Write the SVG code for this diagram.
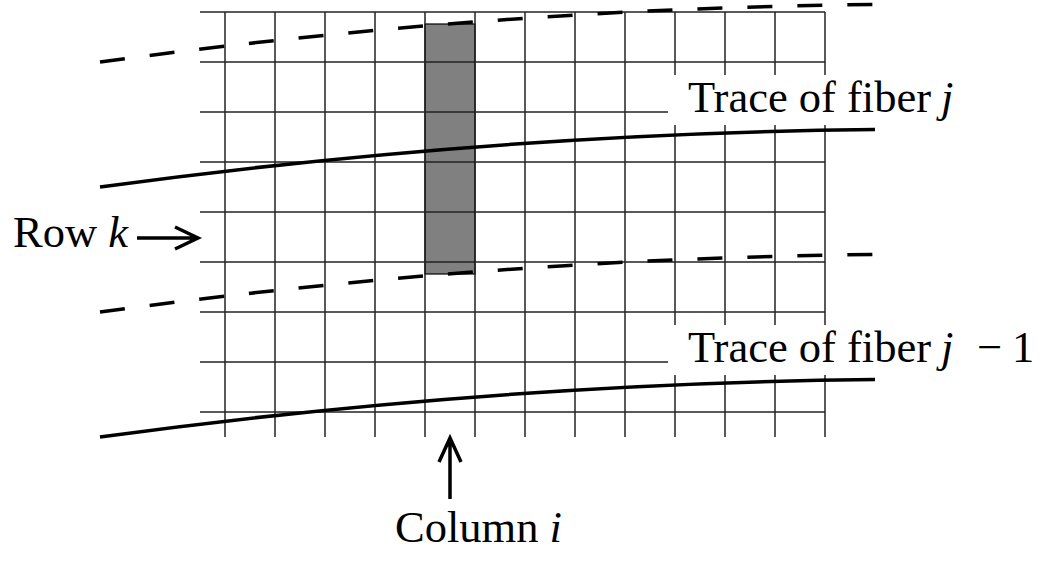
<svg xmlns="http://www.w3.org/2000/svg" width="1052" height="571" viewBox="0 0 1052 571">
<style>
.grid line{stroke:#222;stroke-width:1.5}
.curve{fill:none;stroke:#000;stroke-width:3.5}
.dash{stroke-dasharray:25 25}
.arrow{fill:none;stroke:#000;stroke-width:3.5}
text{font-family:"Liberation Serif","Times New Roman",serif;font-size:44.5px;fill:#000}
.it{font-style:italic}
.bg{fill:#fff}
</style>
<rect width="1052" height="571" fill="#fff"/>
<g id="pixel">
<rect x="425" y="24" width="50" height="250" fill="#808080" stroke="#000" stroke-width="1.2"/>
</g>
<g id="grid" class="grid">
<line x1="200" y1="12" x2="825" y2="12"/>
<line x1="200" y1="62" x2="825" y2="62"/>
<line x1="200" y1="112" x2="825" y2="112"/>
<line x1="200" y1="162" x2="825" y2="162"/>
<line x1="200" y1="212" x2="825" y2="212"/>
<line x1="200" y1="262" x2="825" y2="262"/>
<line x1="200" y1="312" x2="825" y2="312"/>
<line x1="200" y1="362" x2="825" y2="362"/>
<line x1="200" y1="412" x2="825" y2="412"/>
<line x1="225" y1="12" x2="225" y2="437"/>
<line x1="275" y1="12" x2="275" y2="437"/>
<line x1="325" y1="12" x2="325" y2="437"/>
<line x1="375" y1="12" x2="375" y2="437"/>
<line x1="425" y1="12" x2="425" y2="437"/>
<line x1="475" y1="12" x2="475" y2="437"/>
<line x1="525" y1="12" x2="525" y2="437"/>
<line x1="575" y1="12" x2="575" y2="437"/>
<line x1="625" y1="12" x2="625" y2="437"/>
<line x1="675" y1="12" x2="675" y2="437"/>
<line x1="725" y1="12" x2="725" y2="437"/>
<line x1="775" y1="12" x2="775" y2="437"/>
<line x1="825" y1="12" x2="825" y2="437"/>
</g>
<g id="connectors">
<path class="curve dash" d="M100,62 C360,26.6 615,7.1 875,4.5"/>
<path class="curve" d="M100,187 C360,151.6 615,132.1 875,129.5"/>
<path class="curve dash" d="M100,312 C360,276.6 615,257.1 875,254.5"/>
<path class="curve" d="M100,437 C360,401.6 615,382.1 875,379.5"/>
<path class="arrow" d="M137,238 H197 M175,227 L198,238 L175,249"/>
<path class="arrow" d="M450,499 V439 M439,462 L450,438 L461,462"/>
</g>
<g id="label-fiber-j">
<rect class="bg" x="668" y="75" width="300" height="50"/>
<text x="688" y="112">Trace of fiber <tspan class="it" x="941">j</tspan></text>
</g>
<g id="label-fiber-j-1">
<rect class="bg" x="668" y="325" width="380" height="50"/>
<text x="688" y="362">Trace of fiber <tspan class="it" x="941">j</tspan><tspan x="977">−</tspan><tspan x="1012">1</tspan></text>
</g>
<g id="label-row">
<text x="13" y="247">Row <tspan class="it">k</tspan></text>
</g>
<g id="label-column">
<text x="395" y="542">Column <tspan class="it">i</tspan></text>
</g>
</svg>
